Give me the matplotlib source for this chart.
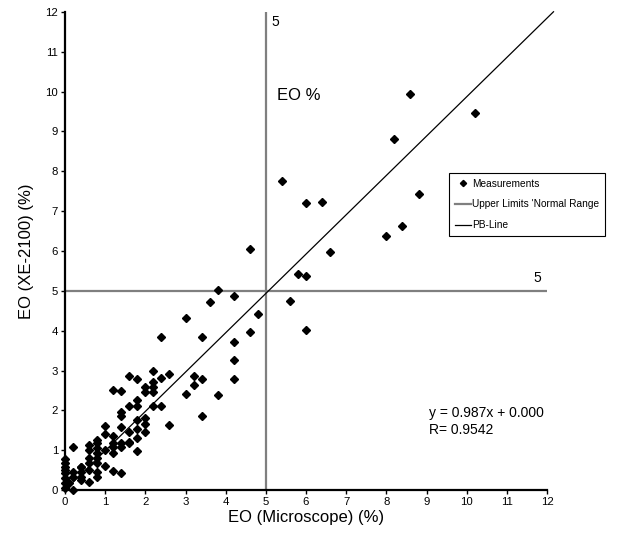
#!/usr/bin/env python3
"""EO (XE-2100) vs EO (Microscope) comparison scatter."""

import matplotlib
matplotlib.use("Agg")
import matplotlib.pyplot as plt
import numpy as np

plt.rcParams["font.family"] = ["Liberation Sans", "DejaVu Sans"]

upper_x = [8.6, 10.2, 8.2, 5.4, 6.0, 6.4, 8.8, 8.4, 8.0, 6.6, 5.8, 6.0, 5.6, 6.0, 4.8, 4.6, 4.6]
upper_y = [9.95, 9.45, 8.8, 7.75, 7.2, 7.22, 7.42, 6.63, 6.37, 5.98, 5.43, 5.37, 4.75, 4.02, 4.41, 6.05, 3.96]

mid_x = [3.8, 4.2, 3.6, 3.0, 2.4, 3.4, 4.2, 4.2, 4.2, 3.8, 3.4, 2.6, 3.0, 3.2, 3.4, 3.2,
         2.6, 2.4, 2.2, 2.2, 2.2, 2.2, 2.0, 2.0, 2.4, 2.2, 1.6, 1.8, 1.2, 1.4, 1.8, 1.8,
         1.6, 1.4, 1.4, 2.0, 2.0, 2.0, 1.8, 1.8, 1.8, 1.6, 1.6, 1.4, 1.4, 1.4, 1.8]
mid_y = [5.03, 4.87, 4.73, 4.33, 3.83, 3.83, 3.72, 3.26, 2.78, 2.38, 1.85, 1.63, 2.42, 2.64, 2.78, 2.86,
         2.92, 2.82, 3.0, 2.72, 2.58, 2.47, 2.58, 2.47, 2.1, 2.12, 2.86, 2.78, 2.52, 2.48, 2.27, 2.12,
         2.12, 1.96, 1.87, 1.8, 1.66, 1.45, 1.75, 1.54, 1.3, 1.46, 1.21, 1.58, 1.17, 1.08, 0.97]

low_x = [1.0, 1.0, 1.2, 1.2, 1.0, 1.2, 0.8, 0.8, 0.8, 0.8, 0.8, 0.8, 0.6, 0.6, 0.6, 0.2,
         0.0, 0.0, 0.4, 1.0, 1.2, 1.4, 0.6, 0.6, 0.8, 0.8, 0.4, 0.4, 0.4, 0.2, 0.2,
         0.0, 0.0, 0.0, 0.0, 0.0, 0.1, 0.2, 0.6, 0.4, 1.2, 1.6, 0.0]
low_y = [1.6, 1.42, 1.35, 1.17, 1.0, 0.93, 1.25, 1.17, 1.05, 0.92, 0.8, 0.67, 1.14, 1.0, 0.8, 1.08,
         0.77, 0.58, 0.58, 0.6, 0.48, 0.42, 0.67, 0.5, 0.46, 0.34, 0.58, 0.46, 0.34, 0.46, 0.34,
         0.67, 0.42, 0.3, 0.17, 0.05, 0.17, 0.0, 0.2, 0.25, 1.09, 1.17, 0.5]

eo_micro = upper_x + mid_x + low_x
eo_xe = upper_y + mid_y + low_y

limit = 5
slope, intercept = 0.987, 0.000
r_value = 0.9542
ticks = list(range(0, 13))

GREY = "#7f7f7f"

fig = plt.figure(figsize=(6.31, 5.38), dpi=100)
ax = fig.add_axes([0.103, 0.089, 0.764, 0.889])

ax.plot([limit, limit], [0, 12], color=GREY, lw=1.6, zorder=1)
ax.plot([0, 12], [limit, limit], color=GREY, lw=1.6, zorder=1,
        label="Upper Limits 'Normal Range")
xs = np.array([0, 12.16])
ax.plot(xs, slope * xs + intercept, color="black", lw=0.9, zorder=2,
        clip_on=False, label="PB-Line")
ax.plot(eo_micro, eo_xe, ls="none", marker="D", ms=4.2, color="black",
        clip_on=False, zorder=3, label="Measurements")

ax.set_xlim(0, 12)
ax.set_ylim(0, 12)
ax.set_xticks(ticks)
ax.set_yticks(ticks)
ax.tick_params(labelsize=8.2, length=3, width=1, direction="out", pad=2)
for side in ("top", "right"):
    ax.spines[side].set_visible(False)
for side in ("left", "bottom"):
    ax.spines[side].set_linewidth(1.6)

ax.set_xlabel("EO (Microscope) (%)", fontsize=12, labelpad=2)
ax.set_ylabel("EO (XE-2100) (%)", fontsize=12, labelpad=8)

ax.text(5.15, 11.75, "5", fontsize=10, va="center")
ax.text(11.65, 5.15, "5", fontsize=10, va="bottom")
ax.text(5.28, 9.9, "EO %", fontsize=12, va="center")
ax.text(9.05, 1.93, f"y = {slope:.3f}x + {intercept:.3f}", fontsize=10, va="center")
ax.text(9.05, 1.5, f"R= {r_value}", fontsize=10, va="center")

handles, labels = ax.get_legend_handles_labels()
order = [2, 0, 1]
leg = ax.legend([handles[i] for i in order], [labels[i] for i in order],
                loc="upper left", bbox_to_anchor=(0.712, 0.679),
                bbox_transform=fig.transFigure, fontsize=7.3, frameon=True,
                fancybox=False, framealpha=1, edgecolor="black",
                handlelength=1.5, handletextpad=0.15, borderpad=0.6,
                labelspacing=1.05, borderaxespad=0, markerscale=0.75)
leg.get_frame().set_linewidth(0.8)

fig.savefig("out.png", dpi=100, facecolor="white")
